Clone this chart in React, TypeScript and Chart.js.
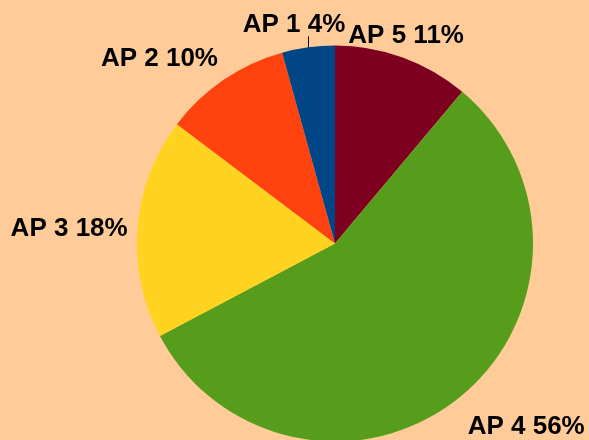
import React, { useRef, useEffect } from "react";
import { Chart, registerables } from "chart.js";

Chart.register(...registerables);

// data, LibreOffice-style pie (drawn counter-clockwise from 12 o'clock)
const categories = ["AP 1", "AP 2", "AP 3", "AP 4", "AP 5"];
const values = [4.3, 10.4, 18.0, 56.1, 11.1];
const sliceColors = ["#004586", "#ff420e", "#ffd320", "#579d1c", "#7e0021"];

const LABEL_FONT = 'bold 26px "Liberation Sans", Arial, sans-serif';
const LABEL_GAP = 10;

// outside labels "AP n xx%" placed like LibreOffice does, with a leader line when moved
const outsideLabels = {
  id: "outsideLabels",
  afterDatasetsDraw(chart: any) {
    const ctx = chart.ctx;
    const meta = chart.getDatasetMeta(0);
    const ds = chart.data.datasets[0].data as number[];
    const total = ds.reduce((a, b) => a + b, 0);
    ctx.save();
    ctx.font = LABEL_FONT;
    const ascent = 26 * 0.905;
    const descent = 26 * 0.212;
    const boxes: { x1: number; x2: number; y1: number; y2: number }[] = [];

    meta.data.forEach((arc: any, i: number) => {
      const { x, y, startAngle, endAngle, outerRadius } = arc.getProps(
        ["x", "y", "startAngle", "endAngle", "outerRadius"],
        true
      );
      const mid = (startAngle + endAngle) / 2;
      const ux = Math.cos(mid);
      const uy = Math.sin(mid);
      const px = x + (outerRadius + LABEL_GAP) * ux;
      const py = y + (outerRadius + LABEL_GAP) * uy;
      const text = `${chart.data.labels[i]} ${Math.round((ds[i] / total) * 100)}%`;
      const w = ctx.measureText(text).width;
      const h = ascent + descent;

      let x1 = Math.abs(ux) < 0.45 ? px - w / 2 : ux > 0 ? px + 2 : px - w;
      const y1 = Math.abs(uy) < 0.45 ? py - h / 2 : uy > 0 ? py + 5 : py - h;

      // push away from labels already placed
      let moved = false;
      boxes.forEach((b) => {
        const overlapY = y1 < b.y2 && y1 + h > b.y1;
        const overlapX = x1 < b.x2 && x1 + w > b.x1;
        if (overlapX && overlapY) {
          moved = true;
          if (ux < 0) x1 = b.x1 - w - 3;
          else x1 = b.x2 + 3;
        }
      });
      boxes.push({ x1, x2: x1 + w, y1, y2: y1 + h });

      if (moved) {
        const ex = x + outerRadius * ux;
        const ey = y + outerRadius * uy;
        ctx.strokeStyle = "#000000";
        ctx.lineWidth = 1;
        ctx.beginPath();
        ctx.moveTo(Math.round(ex) + 0.5, ey);
        ctx.lineTo(Math.round(ex) + 0.5, uy < 0 ? y1 + h - 1 : y1 + 1);
        ctx.stroke();
      }

      ctx.fillStyle = "#000000";
      ctx.textAlign = "left";
      ctx.textBaseline = "alphabetic";
      ctx.fillText(text, x1, y1 + ascent);
    });
    ctx.restore();
  },
};

const App: React.FC = () => {
  const chartRef = useRef<HTMLCanvasElement | null>(null);

  useEffect(() => {
    if (!chartRef.current) return;
    const ctx = chartRef.current.getContext("2d");
    if (!ctx) return;

    // Chart.js goes clockwise, so feed the slices in reverse order
    const order = categories.map((_, i) => categories.length - 1 - i);

    const chartInstance = new Chart(ctx, {
      type: "pie",
      data: {
        labels: order.map((i) => categories[i]),
        datasets: [
          {
            data: order.map((i) => values[i]),
            backgroundColor: order.map((i) => sliceColors[i]),
            borderWidth: 0,
          },
        ],
      },
      options: {
        animation: false,
        responsive: true,
        maintainAspectRatio: false,
        layout: { padding: { left: 137, right: 56, top: 45, bottom: 0 } },
        plugins: {
          legend: { display: false },
          tooltip: { enabled: false },
        },
      },
      plugins: [outsideLabels],
    });

    return () => {
      chartInstance.destroy();
    };
  }, []);

  return (
    <div
      style={{
        position: "fixed",
        left: 0,
        top: 0,
        width: 589,
        height: 440,
        overflow: "hidden",
        background: "#ffcc99",
      }}
    >
      <div style={{ position: "relative", width: 589, height: 442 }}>
        <canvas ref={chartRef} />
      </div>
    </div>
  );
};

export default App;
